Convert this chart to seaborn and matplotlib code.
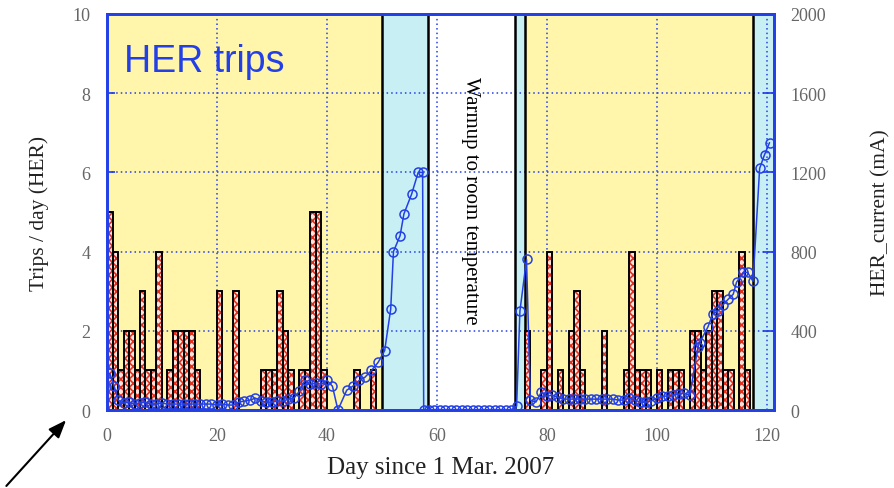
import matplotlib
matplotlib.use("Agg")
import matplotlib.pyplot as plt
import seaborn as sns
import pandas as pd

# trips per day (HER), bars
bar_day = [0, 1, 2, 3, 4, 5, 6, 7, 8, 9, 11, 12, 13, 14, 15, 16, 20, 23, 28, 29, 30, 31, 32, 33,
           35, 36, 37, 38, 39, 45, 48,
           76, 79, 80, 82, 84, 85, 86, 90, 94, 95, 96, 97, 98, 100, 102, 103, 104,
           106, 107, 108, 109, 110, 111, 112, 113, 115, 116]
trips = [5, 4, 1, 2, 2, 1, 3, 1, 1, 4, 1, 2, 2, 2, 2, 1, 3, 3, 1, 1, 1, 3, 2, 1,
         1, 1, 5, 5, 1, 1, 1,
         2, 1, 4, 1, 2, 3, 1, 2, 1, 4, 1, 1, 1, 1, 1, 1, 1,
         2, 2, 1, 2, 3, 3, 1, 1, 4, 1]

# HER current (mA), line
cur_day = [0.5, 1.3, 2, 3, 4, 5, 6, 7, 8, 9, 10, 11, 12, 13, 14, 15, 16, 17, 18, 19, 20,
           21, 22, 23, 24, 25, 26, 27, 28, 29, 30, 31, 32, 33, 34, 35, 36, 37, 38, 39, 40, 41,
           42, 43.6, 44.7, 45.9, 46.9, 48.1, 49.3, 50.5, 51.6, 52.1, 53.3, 54, 55.4, 56.6, 57.4,
           57.6, 58.5, 59.5, 60.5, 61.5, 62.5, 63.5, 64.5, 65.5, 66.5, 67.5, 68.5, 69.5, 70.5,
           71.5, 72.5, 73.5, 74.5, 75.1, 76.3, 77, 78, 79, 80, 81, 82, 83, 84, 85, 86, 87, 88,
           89, 90, 91, 92, 93, 94, 95, 96, 97, 98, 99, 100, 101, 102, 103, 104, 105, 106,
           107.5, 107.8, 109.3, 110.2, 111.1, 112, 113, 113.9, 114.5, 115.7, 116.5, 117.5,
           118.7, 119.6, 120.5]
current = [185, 120, 50, 35, 40, 30, 35, 40, 30, 30, 35, 30, 30, 30, 30, 30, 30, 30, 30, 30, 25,
           30, 25, 25, 40, 45, 50, 60, 45, 40, 40, 45, 45, 55, 60, 95, 150, 130, 135, 130, 150, 120,
           0, 100, 120, 150, 165, 200, 240, 300, 510, 800, 880, 990, 1090, 1200, 1200,
           0, 0, 0, 0, 0, 0, 0, 0, 0, 0, 0, 0, 0, 0,
           0, 0, 0, 20, 500, 760, 50, 40, 90, 70, 75, 65, 55, 55, 55, 55, 55, 55,
           55, 55, 55, 55, 50, 50, 60, 50, 40, 40, 45, 60, 70, 70, 75, 80, 85, 75,
           320, 340, 420, 485, 500, 530, 560, 585, 645, 695, 695, 650,
           1220, 1290, 1350]

# run periods (start, end, colour)
period_start = [0, 50, 58.3, 74.2, 76, 117.5]
period_end = [50, 58.3, 74.2, 76, 117.5, 121.3]
period_color = ["#fff6ab", "#c8f0f4", "#ffffff", "#c8f0f4", "#fff6ab", "#c8f0f4"]
boundaries = [50, 58.3, 74.2, 76, 117.5]

sns.set_theme(style="white")
plt.rcParams["font.family"] = ["Liberation Serif", "DejaVu Serif"]
plt.rcParams["hatch.linewidth"] = 1.2

blue = "#2240e6"
fig = plt.figure(figsize=(8.94, 4.89), dpi=100)
ax = fig.add_axes([0.1197, 0.1595, 0.746, 0.81])

for s, e, c in zip(period_start, period_end, period_color):
    ax.axvspan(s, e, color=c, zorder=0, lw=0)
for b in boundaries:
    ax.axvline(b, color="black", lw=1.8, zorder=1.5)

# hatched bars (red dots) + black outline
ax.bar(bar_day, trips, width=1, align="edge", facecolor="#fbe4de", edgecolor="#e0301e",
       hatch="xxxx", lw=0, zorder=2)
ax.bar(bar_day, trips, width=1, align="edge", fill=False, edgecolor="black", lw=1.4, zorder=2.1)

ax.set_xlim(0, 121.3)
ax.set_ylim(0, 10)
ax.set_xticks([0, 20, 40, 60, 80, 100, 120])
ax.set_yticks([0, 2, 4, 6, 8, 10])
ax.set_axisbelow(True)
ax.grid(True, color=blue, ls=(0, (1, 2)), lw=1.1)
ax.set_xlabel("Day since 1 Mar. 2007", fontsize=18, color="#222222", labelpad=9)
ax.set_ylabel("Trips / day (HER)", fontsize=15.5, color="#222222", labelpad=17)
ax.tick_params(axis="both", direction="in", color=blue, length=6, labelsize=13,
               labelcolor="#666666", pad=12)
for sp in ax.spines.values():
    sp.set_color(blue)
    sp.set_linewidth(2)

ax2 = ax.twinx()
df = pd.DataFrame({"day": cur_day, "mA": current})
sns.lineplot(data=df, x="day", y="mA", ax=ax2, color=blue, lw=1.1, marker="o", markersize=6.5,
             markerfacecolor="none", markeredgecolor=blue, markeredgewidth=1.1, sort=False,
             zorder=3)
ax2.set_ylim(0, 2000)
ax2.set_yticks([0, 400, 800, 1200, 1600, 2000])
ax2.set_xlim(0, 121.3)
ax2.set_ylabel("HER_current (mA)", fontsize=15.5, color="#222222", labelpad=32)
ax2.set_xlabel("")
ax2.tick_params(axis="y", direction="in", color=blue, length=8, labelsize=13,
                labelcolor="#666666", pad=12)
for sp in ax2.spines.values():
    sp.set_color(blue)
    sp.set_linewidth(2)

ax.text(3, 8.8, "HER trips", color=blue, fontsize=27, family=["Liberation Sans", "DejaVu Sans"],
        va="center", ha="left")
ax.text(66.2, 5.3, "Warmup to room temperature", rotation=270, fontsize=15, color="black",
        ha="center", va="center")

# arrow in the lower left corner, figure coordinates
ax.annotate("", xy=(0.076, 0.143), xytext=(0.005, 0.0), xycoords="figure fraction",
            textcoords="figure fraction",
            arrowprops=dict(arrowstyle="-|>,head_length=0.9,head_width=0.35", color="black", lw=1.5))

fig.savefig("out.png", dpi=100)
